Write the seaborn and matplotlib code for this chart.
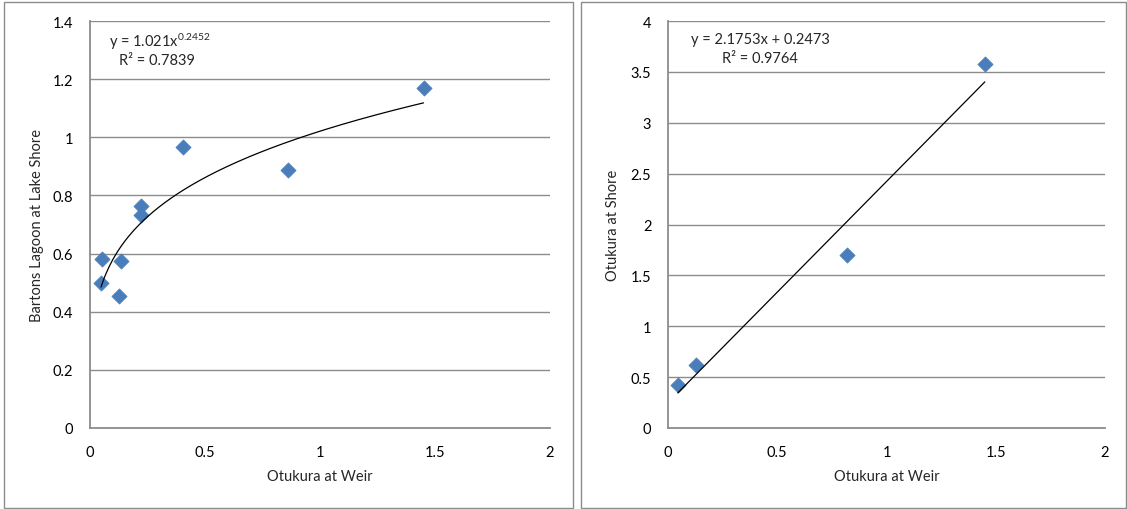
import numpy as np
import pandas as pd
import matplotlib
matplotlib.use("Agg")
import matplotlib.pyplot as plt
import seaborn as sns
from matplotlib.patches import Rectangle
from matplotlib.ticker import FuncFormatter, MultipleLocator

# Left chart: Otukura at Weir vs Bartons Lagoon at Lake Shore
weir_left = [1.45, 0.405, 0.862, 0.220, 0.223, 0.052, 0.135, 0.048, 0.127]
bartons = [1.171, 0.968, 0.888, 0.763, 0.732, 0.582, 0.574, 0.500, 0.454]
power_a, power_b = 1.021, 0.2452
left_eq = "y = 1.021x$^{0.2452}$"
left_r2 = "R² = 0.7839"

# Right chart: Otukura at Weir vs Otukura at Shore
weir_right = [1.45, 0.818, 0.127, 0.045]
shore = [3.582, 1.704, 0.616, 0.420]
lin_m, lin_c = 2.1753, 0.2473
right_eq = "y = 2.1753x + 0.2473"
right_r2 = "R² = 0.9764"

blue = "#4a7ebb"
grey = "#8c8c8c"

sns.set_theme(style="white")
plt.rcParams["font.family"] = ["Lato", "DejaVu Sans"]
plt.rcParams["mathtext.default"] = "regular"

fig = plt.figure(figsize=(11.27, 5.10), dpi=100)
W, H = 1127, 510

# panel borders
fig.patches.append(Rectangle((4 / W, 1 - 509 / H), (573 - 4) / W, (509 - 3) / H,
                             transform=fig.transFigure, fill=False, ec=grey, lw=1.0))
fig.patches.append(Rectangle((581 / W, 1 - 509 / H), (1126 - 581) / W, (509 - 3) / H,
                             transform=fig.transFigure, fill=False, ec=grey, lw=1.0))

ax1 = fig.add_axes([90 / W, 1 - 429 / H, 460 / W, 407 / H])
ax2 = fig.add_axes([668 / W, 1 - 429 / H, 437 / W, 407 / H])

fmt = FuncFormatter(lambda v, p: "{:g}".format(round(v, 3)))


def style(ax, ymax, ystep, ylabel, ylab_x):
    ax.set_xlim(0, 2)
    ax.set_ylim(0, ymax)
    ax.xaxis.set_major_locator(MultipleLocator(0.5))
    ax.yaxis.set_major_locator(MultipleLocator(ystep))
    ax.xaxis.set_major_formatter(fmt)
    ax.yaxis.set_major_formatter(fmt)
    ax.grid(axis="y", color=grey, lw=1.0)
    ax.set_axisbelow(True)
    for s in ["top", "right"]:
        ax.spines[s].set_visible(False)
    for s in ["left", "bottom"]:
        ax.spines[s].set_color(grey)
        ax.spines[s].set_linewidth(1.3)
    ax.tick_params(axis="both", length=0, labelsize=10.5, colors="#000000")
    ax.tick_params(axis="y", pad=12)
    ax.tick_params(axis="x", pad=12)
    ax.set_xlabel("Otukura at Weir", fontsize=10.5)
    ax.set_ylabel(ylabel, fontsize=10.5)
    ax.xaxis.set_label_coords(0.5, -0.10)
    ax.yaxis.set_label_coords(ylab_x, 0.5)


# left chart
sns.scatterplot(x=weir_left, y=bartons, ax=ax1, marker="D", s=60,
                color=blue, edgecolor=blue, linewidth=0.5, zorder=3)
xs = np.linspace(min(weir_left), max(weir_left), 200)
sns.lineplot(x=xs, y=power_a * xs ** power_b, ax=ax1, color="black", lw=0.9, zorder=4)
style(ax1, 1.4, 0.2, "Bartons Lagoon at Lake Shore", -0.10)
ax1.text(0.152, 0.952, left_eq, transform=ax1.transAxes, ha="center", va="center", fontsize=10.5)
ax1.text(0.145, 0.905, left_r2, transform=ax1.transAxes, ha="center", va="center", fontsize=10.5)

# right chart
sns.scatterplot(x=weir_right, y=shore, ax=ax2, marker="D", s=60,
                color=blue, edgecolor=blue, linewidth=0.5, zorder=3)
xr = np.array([min(weir_right), max(weir_right)])
sns.lineplot(x=xr, y=lin_m * xr + lin_c, ax=ax2, color="black", lw=0.9, zorder=4)
style(ax2, 4, 0.5, "Otukura at Shore", -0.11)
ax2.text(0.211, 0.956, right_eq, transform=ax2.transAxes, ha="center", va="center", fontsize=10.5)
ax2.text(0.211, 0.909, right_r2, transform=ax2.transAxes, ha="center", va="center", fontsize=10.5)

fig.savefig("out.png", dpi=100)
